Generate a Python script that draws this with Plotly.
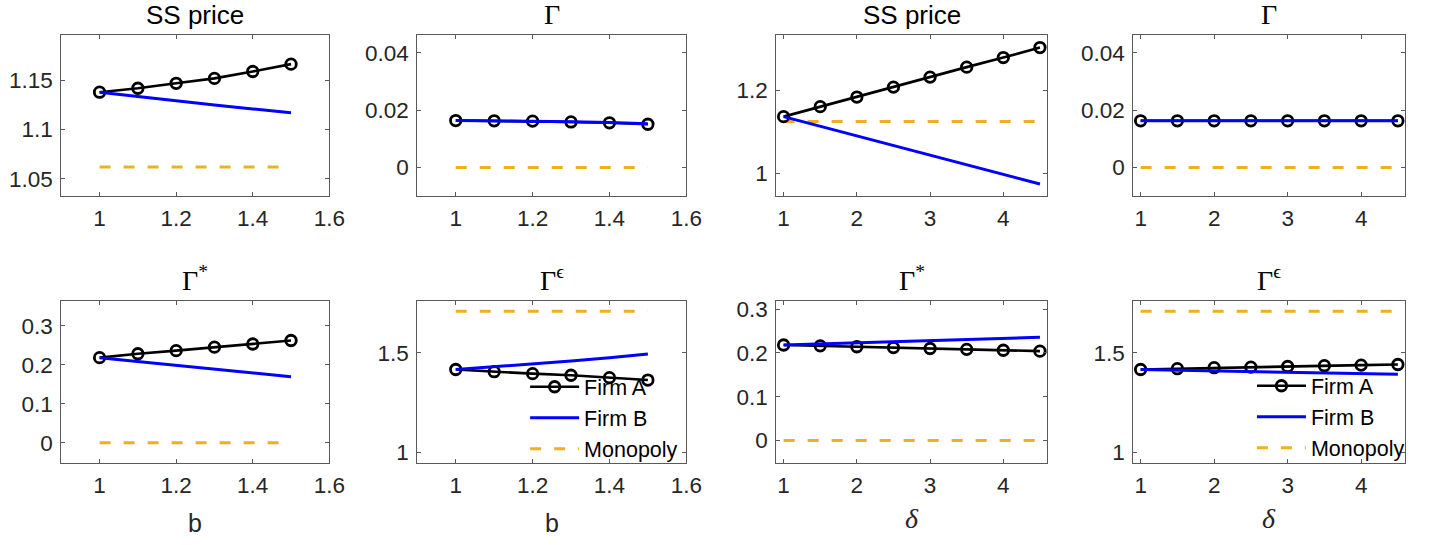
import plotly.graph_objects as go

W, H = 1442, 545

# ---------------- data ----------------
b_vals = [1.0, 1.1, 1.2, 1.3, 1.4, 1.5]
delta_vals = [1.0, 1.5, 2.0, 2.5, 3.0, 3.5, 4.0, 4.5]

# panels in b
price_b_A = [1.138, 1.142, 1.147, 1.152, 1.159, 1.1665]
price_b_B = [1.138, 1.1335, 1.129, 1.125, 1.121, 1.117]
price_b_M = [1.062] * 6

gamma_b_A = [0.0164, 0.0163, 0.0162, 0.0159, 0.0156, 0.0151]
gamma_b_B = [0.0164, 0.0163, 0.0162, 0.0160, 0.0157, 0.0153]
gamma_b_M = [0.0] * 6

gstar_b_A = [0.218, 0.228, 0.236, 0.245, 0.253, 0.262]
gstar_b_B = [0.218, 0.208, 0.198, 0.188, 0.179, 0.169]
gstar_b_M = [0.0] * 6

geps_b_A = [1.417, 1.406, 1.396, 1.388, 1.376, 1.364]
geps_b_B = [1.417, 1.430, 1.444, 1.459, 1.476, 1.495]
geps_b_M = [1.709] * 6

# panels in delta
price_d_A = [1.137, 1.161, 1.184, 1.208, 1.232, 1.256, 1.279, 1.303]
price_d_B = [1.137, 1.114, 1.091, 1.068, 1.044, 1.021, 0.998, 0.975]
price_d_M = [1.125] * 8

gamma_d_A = [0.0163] * 8
gamma_d_B = [0.0163] * 8
gamma_d_M = [0.0] * 8

gstar_d_A = [0.218, 0.216, 0.214, 0.212, 0.210, 0.208, 0.206, 0.204]
gstar_d_B = [0.218, 0.2205, 0.223, 0.2255, 0.228, 0.2305, 0.233, 0.2355]
gstar_d_M = [0.0] * 8

geps_d_A = [1.417, 1.421, 1.426, 1.429, 1.432, 1.436, 1.439, 1.442]
geps_d_B = [1.417, 1.4136, 1.410, 1.4067, 1.403, 1.400, 1.3965, 1.393]
geps_d_M = [1.709] * 8

series_names = ["Firm A", "Firm B", "Monopoly"]

b_ticks = [1, 1.2, 1.4, 1.6]
b_ticktext = ["1", "1.2", "1.4", "1.6"]
d_ticks = [1, 2, 3, 4]
d_ticktext = ["1", "2", "3", "4"]

# ---------------- layout geometry (pixels) ----------------
col_px = [(62, 333), (422, 694), (785, 1059), (1146, 1421)]
row_px = [(31.5, 195), (301, 464.5)]

SANS = "Liberation Sans, Arial, Helvetica, sans-serif"
SERIF = "Liberation Serif, Times New Roman, DejaVu Serif, serif"
TICKC = "#262626"
AXC = "#5a5a5a"

panels = [
    # row 1
    dict(x=b_vals, A=price_b_A, B=price_b_B, M=price_b_M, yr=[1.032, 1.196],
         yt=[1.05, 1.1, 1.15], ytt=["1.05", "1.1", "1.15"], title="SS price", tfont="sans",
         xt=b_ticks, xtt=b_ticktext, xr=[0.9, 1.6], xlabel=None, legend=None),
    dict(x=b_vals, A=gamma_b_A, B=gamma_b_B, M=gamma_b_M, yr=[-0.0101, 0.0462],
         yt=[0, 0.02, 0.04], ytt=["0", "0.02", "0.04"], title="Γ", tfont="serif",
         xt=b_ticks, xtt=b_ticktext, xr=[0.9, 1.6], xlabel=None, legend=None),
    dict(x=delta_vals, A=price_d_A, B=price_d_B, M=price_d_M, yr=[0.945, 1.333],
         yt=[1, 1.2], ytt=["1", "1.2"], title="SS price", tfont="sans",
         xt=d_ticks, xtt=d_ticktext, xr=[0.9, 4.6], xlabel=None, legend=None),
    dict(x=delta_vals, A=gamma_d_A, B=gamma_d_B, M=gamma_d_M, yr=[-0.0101, 0.0462],
         yt=[0, 0.02, 0.04], ytt=["0", "0.02", "0.04"], title="Γ", tfont="serif",
         xt=d_ticks, xtt=d_ticktext, xr=[0.9, 4.6], xlabel=None, legend=None),
    # row 2
    dict(x=b_vals, A=gstar_b_A, B=gstar_b_B, M=gstar_b_M, yr=[-0.051, 0.363],
         yt=[0, 0.1, 0.2, 0.3], ytt=["0", "0.1", "0.2", "0.3"], title="Γ<sup>*</sup>", tfont="serif",
         xt=b_ticks, xtt=b_ticktext, xr=[0.9, 1.6], xlabel="b", legend=None),
    dict(x=b_vals, A=geps_b_A, B=geps_b_B, M=geps_b_M, yr=[0.95, 1.76],
         yt=[1, 1.5], ytt=["1", "1.5"], title="Γ<sup>ϵ</sup>", tfont="serif",
         xt=b_ticks, xtt=b_ticktext, xr=[0.9, 1.6], xlabel="b", legend="legend"),
    dict(x=delta_vals, A=gstar_d_A, B=gstar_d_B, M=gstar_d_M, yr=[-0.05, 0.318],
         yt=[0, 0.1, 0.2, 0.3], ytt=["0", "0.1", "0.2", "0.3"], title="Γ<sup>*</sup>", tfont="serif",
         xt=d_ticks, xtt=d_ticktext, xr=[0.9, 4.6], xlabel="δ", legend=None),
    dict(x=delta_vals, A=geps_d_A, B=geps_d_B, M=geps_d_M, yr=[0.95, 1.76],
         yt=[1, 1.5], ytt=["1", "1.5"], title="Γ<sup>ϵ</sup>", tfont="serif",
         xt=d_ticks, xtt=d_ticktext, xr=[0.9, 4.6], xlabel="δ", legend="legend2"),
]

fig = go.Figure()
annotations = []
layout_axes = {}

for i, p in enumerate(panels):
    r, c = divmod(i, 4)
    n = i + 1
    xa = "x" if n == 1 else f"x{n}"
    ya = "y" if n == 1 else f"y{n}"
    x0, x1 = col_px[c]
    y0, y1 = row_px[r]
    xdom = [x0 / W, x1 / W]
    ydom = [1 - y1 / H, 1 - y0 / H]

    show = p["legend"] is not None
    leg = p["legend"] if show else "legend"

    fig.add_trace(go.Scatter(
        x=p["x"], y=p["M"], mode="lines", name=series_names[2],
        line=dict(color="#EDB120", width=3, dash="11px,13px"),
        xaxis=xa, yaxis=ya, showlegend=show, legend=leg, legendrank=3))
    fig.add_trace(go.Scatter(
        x=p["x"], y=p["A"], mode="lines+markers", name=series_names[0],
        line=dict(color="black", width=2.6),
        marker=dict(symbol="circle-open", size=10.5, color="black", line=dict(width=2.8, color="black")),
        xaxis=xa, yaxis=ya, showlegend=show, legend=leg, legendrank=1))
    fig.add_trace(go.Scatter(
        x=p["x"], y=p["B"], mode="lines", name=series_names[1],
        line=dict(color="#0000FF", width=3),
        xaxis=xa, yaxis=ya, showlegend=show, legend=leg, legendrank=2))

    axis_common = dict(showline=True, linecolor=AXC, linewidth=1, mirror="ticks",
                       ticks="inside", ticklen=4, tickcolor=AXC, tickwidth=1,
                       showgrid=False, zeroline=False,
                       tickfont=dict(family=SANS, size=22.5, color=TICKC))
    layout_axes["xaxis" if n == 1 else f"xaxis{n}"] = dict(
        domain=xdom, range=p["xr"], tickvals=p["xt"], ticktext=p["xtt"],
        anchor=ya, ticklabelstandoff=2, **axis_common)
    layout_axes["yaxis" if n == 1 else f"yaxis{n}"] = dict(
        domain=ydom, range=p["yr"], tickvals=p["yt"], ticktext=p["ytt"],
        anchor=xa, ticklabelstandoff=3, **axis_common)

    cx = (x0 + x1) / 2 / W
    if p["tfont"] == "sans":
        tf = dict(family=SANS, size=26, color="black")
        ysh = 3
    else:
        tf = dict(family=SERIF, size=28, color="black")
        ysh = 3
    annotations.append(dict(text=p["title"], x=cx, y=1 - y0 / H, xref="paper", yref="paper",
                            xanchor="center", yanchor="bottom", yshift=ysh, showarrow=False, font=tf))
    if p["xlabel"]:
        if p["xlabel"] == "b":
            lf = dict(family=SANS, size=25, color=TICKC)
            ly = 526
        else:
            lf = dict(family=SERIF, size=28, color=TICKC)
            ly = 521
        annotations.append(dict(text=p["xlabel"] if p["xlabel"] == "b" else "<i>δ</i>",
                                x=cx, y=1 - ly / H, xref="paper", yref="paper",
                                xanchor="center", yanchor="middle", showarrow=False, font=lf))

legend_common = dict(xanchor="left", yanchor="top", bgcolor="rgba(0,0,0,0)", borderwidth=0,
                     font=dict(family=SANS, size=21.5, color="black"), traceorder="normal",
                     itemwidth=49, tracegroupgap=0)

fig.update_layout(
    width=W, height=H,
    margin=dict(l=0, r=0, t=0, b=0),
    paper_bgcolor="white", plot_bgcolor="white",
    showlegend=True,
    legend=dict(x=531 / W, y=1 - 367 / H, **legend_common),
    legend2=dict(x=1266 / W, y=1 - 366 / H, **legend_common),
    annotations=annotations,
    **layout_axes,
)

fig.write_html("out.html", config={"displayModeBar": False},
               post_script="document.body.style.margin='0';")
